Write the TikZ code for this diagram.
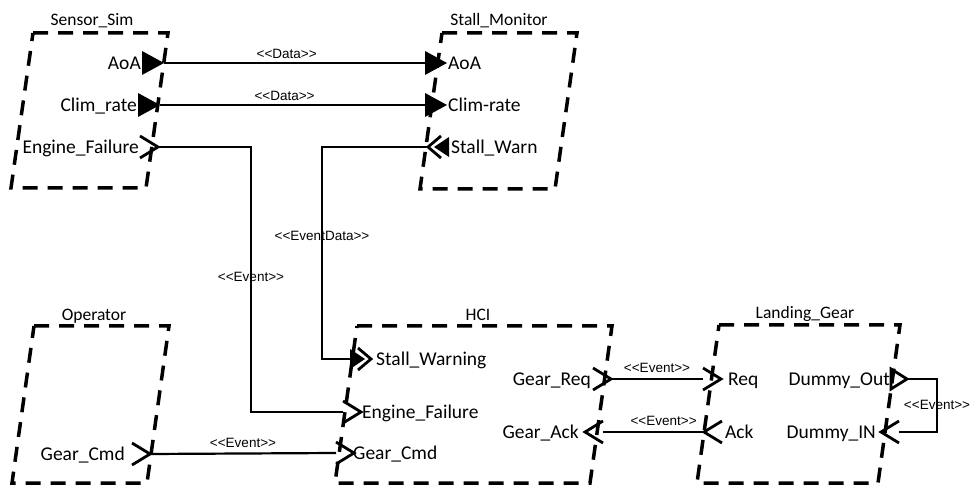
\documentclass[tikz,border=0pt]{standalone}
\usepackage{fontspec}
\setmainfont{Carlito}
\newfontfamily\etiqfont[Ligatures=TeXOff]{Liberation Sans}
\usepackage{tikz}
\usetikzlibrary{positioning}

\begin{document}
\begin{tikzpicture}[
    x=1pt, y=-1pt,
    caja/.style={draw, line width=3.5pt, dash pattern=on 15pt off 10pt},
    nombre/.style={font=\fontsize{17.5}{20}\selectfont, inner sep=0pt, anchor=base},
    puerto/.style={font=\fontsize{19.5}{22}\selectfont, inner sep=1pt,
                   text height=12.6pt, text depth=0pt},
    enlace/.style={line width=2.2pt},
    etiq/.style={font=\etiqfont\fontsize{13.5}{15}\selectfont, inner sep=2pt,
                 text height=9.7pt, text depth=0pt},
    evento/.pic={\draw[line width=2.8pt] (-9,-11) -- (9,0) -- (-9,11);
                 \coordinate (-tip) at (9,0); \coordinate (-back) at (-9,0);},
    dato/.pic={\fill (-11,-12) -- (11,0) -- (-11,12) -- cycle;
               \coordinate (-tip) at (11,0); \coordinate (-back) at (-11,0);},
    datoev/.pic={\fill (-11,-10) -- (4,0) -- (-11,10) -- cycle;
                 \draw[line width=2.8pt] (-3,-11) -- (10,0) -- (-3,11);
                 \coordinate (-tip) at (10,0); \coordinate (-back) at (-11,0);},
    hueco/.pic={\draw[line width=2.8pt] (-8,-10) -- (8,0) -- (-8,10) -- cycle;
                \coordinate (-tip) at (8,0); \coordinate (-back) at (-8,0);}
  ]
    \useasboundingbox (0,0) rectangle (972,486);

    % componentes
    \draw[caja] (33,33) -- (168,33) -- (146,188) -- (11,188) -- cycle;
    \draw[caja] (442,33) -- (577,33) -- (555,189) -- (420,189) -- cycle;
    \draw[caja] (34,326) -- (169,326) -- (147,483) -- (12,483) -- cycle;
    \draw[caja] (357,326) -- (612,326) -- (590,483) -- (335,483) -- cycle;
    \draw[caja] (719,325) -- (900,325) -- (878,483) -- (697,483) -- cycle;
    \node[nombre] (nSS) at (92,26) {Sensor\_Sim};
    \node[nombre] (nSM) at (499,26) {Stall\_Monitor};
    \node[nombre] (nOP) at (94,320) {Operator};
    \node[nombre] (nHC) at (478,320) {HCI};
    \node[nombre] (nLG) at (805,319) {Landing\_Gear};

    % puertos Sensor_Sim
    \pic (ssA) at (153,63) {dato};
    \pic (ssC) at (149,105) {dato};
    \pic (ssE) at (149,147) {evento};
    \node[puerto, left=0pt of ssA-back] (tssA) {AoA};
    \node[puerto, left=0pt of ssC-back] (tssC) {Clim\_rate};
    \node[puerto, left=0pt of ssE-back] (tssE) {Engine\_Failure};

    % puertos Stall_Monitor
    \pic (smA) at (436,63) {dato};
    \pic (smC) at (436,105) {dato};
    \pic[rotate=180] (smW) at (438,147) {datoev};
    \node[puerto, right=0pt of smA-tip] (tsmA) {AoA};
    \node[puerto, right=0pt of smC-tip] (tsmC) {Clim-rate};
    \node[puerto, right=1pt of smW-back] (tsmW) {Stall\_Warn};

    % puertos Operator
    \pic (opC) at (141,454) {evento};
    \node[puerto, left=6pt of opC-back] (topC) {Gear\_Cmd};

    % puertos HCI
    \pic (hcW) at (361,359) {datoev};
    \pic (hcE) at (352,412) {evento};
    \pic (hcC) at (345,453) {evento};
    \pic (hcR) at (602,379) {evento};
    \pic[rotate=180] (hcK) at (594,432) {evento};
    \node[puerto, right=4pt of hcW-tip] (thcW) {Stall\_Warning};
    \node[puerto, right=0pt of hcE-tip] (thcE) {Engine\_Failure};
    \node[puerto, right=-2pt of hcC-tip] (thcC) {Gear\_Cmd};
    \node[puerto, left=1pt of hcR-back] (thcR) {Gear\_Req};
    \node[puerto, left=5pt of hcK-tip] (thcK) {Gear\_Ack};

    % puertos Landing_Gear
    \pic (lgR) at (712,379) {evento};
    \pic[rotate=180] (lgK) at (713,432) {evento};
    \pic (lgO) at (899,379) {hueco};
    \pic[rotate=180] (lgI) at (890,432) {evento};
    \node[puerto, right=6pt of lgR-tip] (tlgR) {Req};
    \node[puerto, right=2pt of lgK-back] (tlgK) {Ack};
    \node[puerto, left=0pt of lgO-back] (tlgO) {Dummy\_Out};
    \node[puerto, left=4pt of lgI-tip] (tlgI) {Dummy\_IN};

    % conexiones
    \draw[enlace] (ssA-tip) -- node[etiq, above=1pt, pos=0.47] (eA) {<<Data>>} (smA-back);
    \draw[enlace] (ssC-tip) -- node[etiq, above=1pt, pos=0.47] (eC) {<<Data>>} (smC-back);
    \draw[enlace] (ssE-tip) -- ++(93,0) |- node[etiq, pos=0.245] (eE) {<<Event>>} (hcE-back);
    \draw[enlace] (smW-tip) -- ++(-106,0) |- node[etiq, pos=0.21] (eW) {<<EventData>>} (hcW-back);
    \draw[enlace] (opC-tip) -- node[etiq, above=3pt] (eO) {<<Event>>} (hcC-back);
    \draw[enlace] (hcR-tip) -- node[etiq, above=3pt] (eR) {<<Event>>} (lgR-back);
    \draw[enlace] (lgK-tip) -- node[etiq, above=3pt, pos=0.4] (eK) {<<Event>>} (hcK-back);
    \draw[enlace] (lgO-tip) -- ++(30,0) |- node[etiq, pos=0.24] (eD) {<<Event>>} (lgI-back);
\end{tikzpicture}
\end{document}
